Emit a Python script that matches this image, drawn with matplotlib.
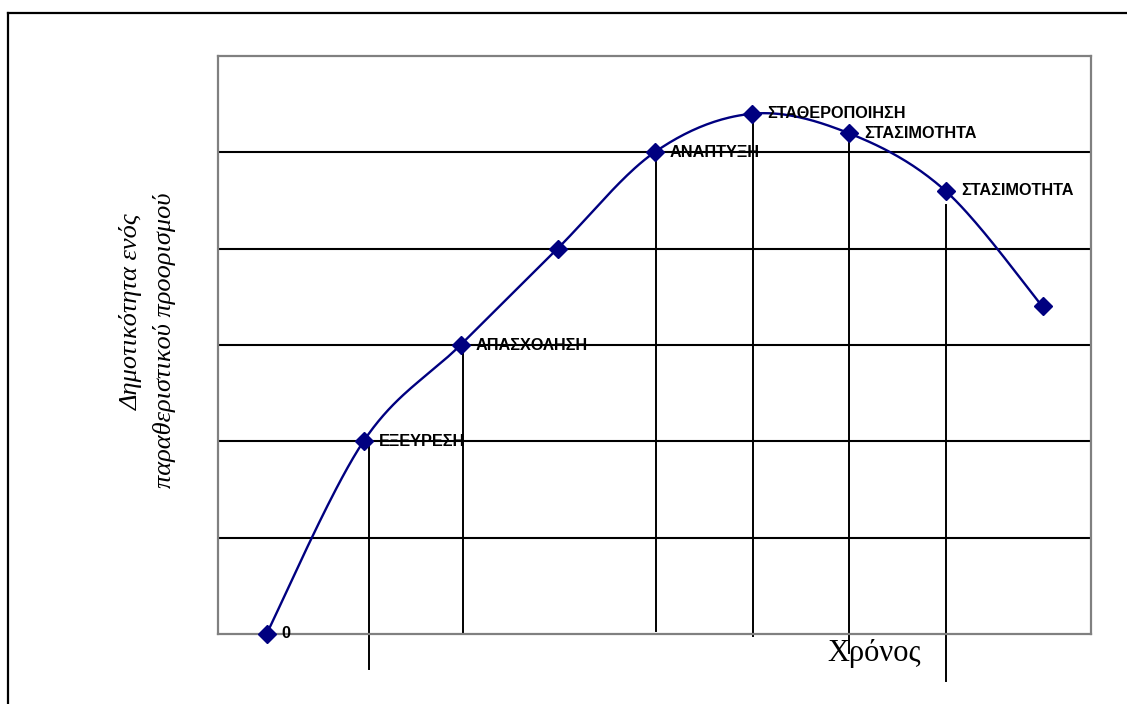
#!/usr/bin/env python3
'''
plot.py - tourist destination life cycle (popularity over time)
'''

import numpy as np
import matplotlib
matplotlib.use('Agg')
import matplotlib.pyplot as plt
from matplotlib.lines import Line2D

# data
stages = ['0', 'ΕΞΕΥΡΕΣΗ', 'ΑΠΑΣΧΟΛΗΣΗ', '', 'ΑΝΑΠΤΥΞΗ',
          'ΣΤΑΘΕΡΟΠΟΙΗΣΗ', 'ΣΤΑΣΙΜΟΤΗΤΑ', 'ΣΤΑΣΙΜΟΤΗΤΑ', '']
popularity = [0, 2, 3, 4, 5, 5.4, 5.2, 4.6, 3.4]

# hand-drawn drop lines: (point index, x nudge, top, bottom) in data units
drops_idx = [1, 2, 4, 5, 6, 7]
drops_dx = [0.06, 0.03, 0.02, 0.02, 0.0, 0.0]
drops_top = [2.0, 3.0, 5.0, 5.4, 5.2, 4.45]
drops_bottom = [-0.36, 0.01, 0.03, -0.02, -0.2, -0.49]

NAVY = '#000080'


def smooth(x, y, n=40):
    # Excel-style smoothed line: cubic Bezier, control points from neighbours
    x = np.asarray(x, float)
    y = np.asarray(y, float)
    px = np.concatenate([[x[0]], x, [x[-1]]])
    py = np.concatenate([[y[0]], y, [y[-1]]])
    t = np.linspace(0, 1, n)[:, None]
    xs, ys = [], []
    for i in range(1, len(x)):
        p0 = np.array([px[i], py[i]])
        p3 = np.array([px[i + 1], py[i + 1]])
        c1 = p0 + (p3 - np.array([px[i - 1], py[i - 1]])) / 6
        c2 = p3 - (np.array([px[i + 2], py[i + 2]]) - p0) / 6
        b = ((1 - t) ** 3 * p0 + 3 * (1 - t) ** 2 * t * c1
             + 3 * (1 - t) * t ** 2 * c2 + t ** 3 * p3)
        xs.extend(b[:, 0])
        ys.extend(b[:, 1])
    return xs, ys


def main():
    fig = plt.figure(figsize=(11.27, 7.04), dpi=100)
    W, H = 1127, 704
    ax = fig.add_axes([218 / W, (H - 634) / H, 873 / W, 578 / H])

    xs = np.arange(len(popularity))
    ax.set_xlim(-0.5, len(popularity) - 0.5)
    ax.set_ylim(0, 6)
    ax.set_yticks([1, 2, 3, 4, 5])
    ax.set_xticks([])
    ax.tick_params(left=False, labelleft=False)
    ax.grid(axis='y', color='black', linewidth=1.5)
    ax.set_axisbelow(True)
    for s in ax.spines.values():
        s.set_color('#808080')
        s.set_linewidth(1.6)

    sx, sy = smooth(xs, popularity)
    ax.plot(sx, sy, color=NAVY, linewidth=1.7, zorder=3)
    ax.plot(xs, popularity, linestyle='none', marker='D', markersize=9.5,
            color=NAVY, zorder=4, clip_on=False)

    for i, dx, top, bot in zip(drops_idx, drops_dx, drops_top, drops_bottom):
        ax.plot([xs[i] + dx] * 2, [top, bot], color='black',
                linewidth=1.4, clip_on=False, zorder=2)

    for i, lab in enumerate(stages):
        if not lab:
            continue
        ax.annotate(lab, (xs[i], popularity[i]), xytext=(11, 0),
                    textcoords='offset points', ha='left', va='center',
                    fontsize=11.7, fontweight='bold',
                    family='Liberation Sans', zorder=5)

    fig.text(131 / W, 1 - 312 / H, 'Δημοτικότητα ενός',
             rotation=90, ha='center', va='center', fontsize=19,
             style='italic', family='Liberation Serif')
    fig.text(164 / W, 1 - 340 / H, 'παραθεριστικού προορισμού',
             rotation=90, ha='center', va='center', fontsize=19,
             style='italic', family='Liberation Serif')
    fig.text(827 / W, 1 - 661 / H, 'Χρόνος', ha='left', va='baseline',
             fontsize=22, family='Liberation Serif')

    # outer frame (runs off the right and bottom edges)
    fig.add_artist(Line2D([8 / W, 1.01], [1 - 13 / H] * 2,
                          transform=fig.transFigure, color='black',
                          linewidth=1.6))
    fig.add_artist(Line2D([8 / W] * 2, [1 - 13 / H, -0.01],
                          transform=fig.transFigure, color='black',
                          linewidth=1.6))

    fig.savefig('out.png', dpi=100)


if __name__ == '__main__':
    main()
